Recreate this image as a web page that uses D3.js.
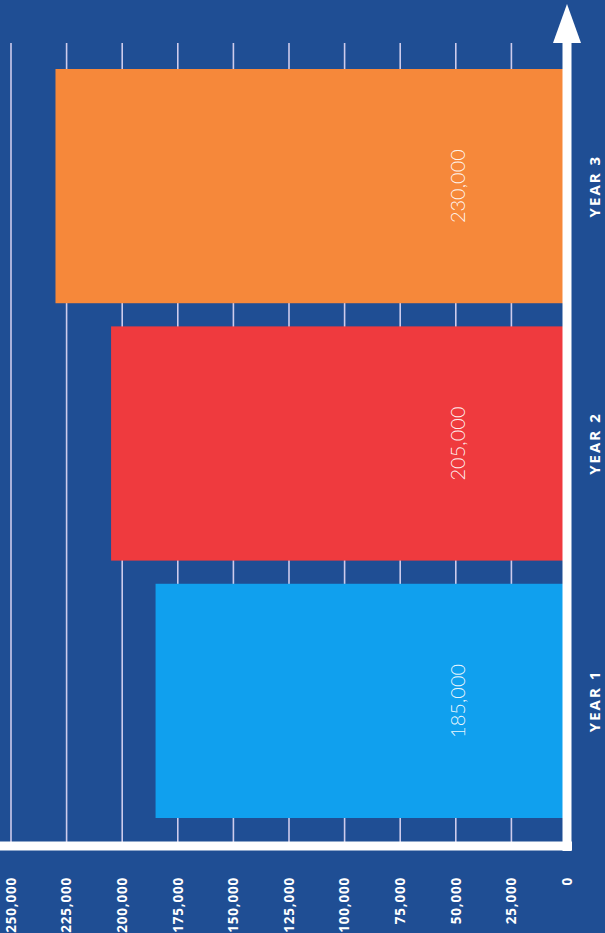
<!DOCTYPE html>
<html>
<head>
<meta charset="utf-8">
<script src="https://cdnjs.cloudflare.com/ajax/libs/d3/7.8.5/d3.min.js"></script>
<style>
  body { margin: 0; background: #1f4e94; }
  svg { display: block; }
</style>
</head>
<body>
<svg id="chart" width="605" height="933"></svg>
<script>
// data
const categories = ['YEAR 1', 'YEAR 2', 'YEAR 3']
const values = [185000, 205000, 230000]
const tickValues = [0, 25000, 50000, 75000, 100000, 125000, 150000, 175000, 200000, 225000, 250000]
const barColors = ['#10a0ee', '#ef3a3e', '#f6883a']

const W = 933, H = 605
const svg = d3.select('#chart')

svg.append('rect')
  .attr('width', 605)
  .attr('height', 933)
  .attr('fill', '#1f4e94')

// the chart is drawn landscape, then turned a quarter turn to the left
const g = svg.append('g').attr('transform', 'translate(0,' + W + ') rotate(-90)')

const x = d3.scaleBand()
  .domain(categories)
  .range([115, 864])
  .paddingInner(0.09)
  .paddingOuter(0)

const y = d3.scaleLinear()
  .domain([0, 250000])
  .range([567, 11])

const fmt = d3.format(',')

// grid
g.append('g')
  .selectAll('line')
  .data(tickValues.filter(d => d > 0))
  .enter().append('line')
    .attr('x1', 87)
    .attr('x2', 890)
    .attr('y1', d => y(d))
    .attr('y2', d => y(d))
    .attr('stroke', '#cdcbec')
    .attr('stroke-width', 1.6)

// bars
g.append('g')
  .selectAll('rect')
  .data(categories)
  .enter().append('rect')
    .attr('x', d => x(d))
    .attr('width', x.bandwidth())
    .attr('y', (d, i) => y(values[i]))
    .attr('height', (d, i) => y(0) - y(values[i]))
    .attr('fill', (d, i) => barColors[i])

// value labels inside bars
g.append('g')
  .selectAll('text')
  .data(categories)
  .enter().append('text')
    .attr('x', d => x(d) + x.bandwidth() / 2)
    .attr('y', y(0) - 102)
    .attr('text-anchor', 'middle')
    .attr('fill', '#ffffff')
    .attr('fill-opacity', 0.92)
    .style('font-family', 'Lato, "Open Sans", sans-serif')
    .style('font-weight', 300)
    .style('font-size', '20px')
    .text((d, i) => fmt(values[i]))

// axes (white L with arrow)
g.append('line')
  .attr('x1', 87).attr('x2', 87)
  .attr('y1', 0).attr('y2', y(0) + 5)
  .attr('stroke', '#ffffff')
  .attr('stroke-width', 9)

g.append('line')
  .attr('x1', 82).attr('x2', 895)
  .attr('y1', y(0)).attr('y2', y(0))
  .attr('stroke', '#ffffff')
  .attr('stroke-width', 9)

g.append('path')
  .attr('d', 'M890,' + (y(0) - 14) + 'L929,' + y(0) + 'L890,' + (y(0) + 14) + 'Z')
  .attr('fill', '#ffffff')

// value ticks
g.append('g')
  .selectAll('text')
  .data(tickValues)
  .enter().append('text')
    .attr('x', 56)
    .attr('y', d => y(d))
    .attr('dy', '0.35em')
    .attr('text-anchor', 'end')
    .attr('fill', '#ffffff')
    .style('font-family', '"Open Sans", sans-serif')
    .style('font-weight', 700)
    .style('font-size', '13.5px')
    .style('letter-spacing', '0.8px')
    .text(d => fmt(d))

// category labels
g.append('g')
  .selectAll('text')
  .data(categories)
  .enter().append('text')
    .attr('x', d => x(d) + x.bandwidth() / 2)
    .attr('y', y(0) + 33)
    .attr('text-anchor', 'middle')
    .attr('fill', '#ffffff')
    .style('font-family', '"Open Sans", sans-serif')
    .style('font-weight', 700)
    .style('font-size', '15px')
    .style('letter-spacing', '2px')
    .text(d => d)
</script>
</body>
</html>
